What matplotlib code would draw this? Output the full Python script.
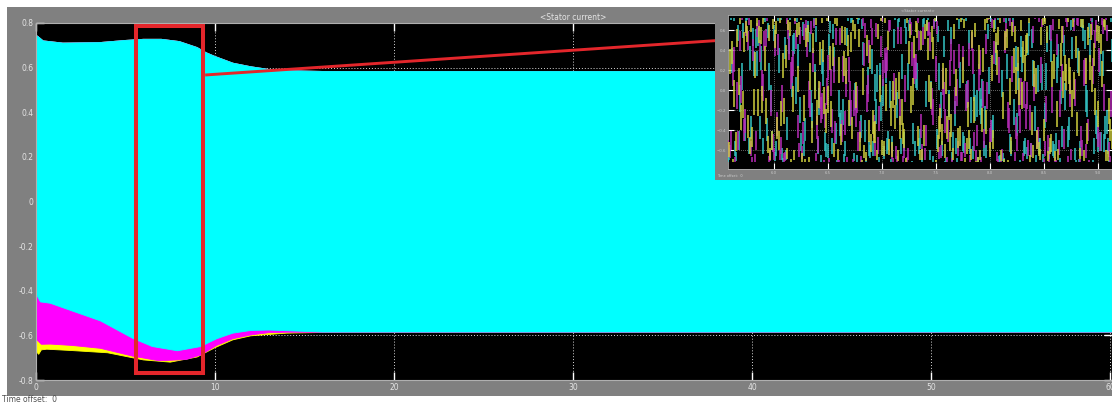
import numpy as np
import matplotlib
matplotlib.use("Agg")
import matplotlib.pyplot as plt
from matplotlib.patches import Rectangle

W, H, DPI = 1112, 403, 100

# Envelope of the three-phase stator current (p.u.) versus simulation time (s)
t_upper = [0, 0.1, 0.4, 1.5, 3.5, 5.0, 6.0, 7.0, 8.0, 9.0, 9.5, 10.0, 11.0, 12.0, 13.0, 14.0, 16.0, 60.2]
i_upper = [0.745, 0.74, 0.72, 0.71, 0.712, 0.722, 0.727, 0.727, 0.717, 0.69, 0.667, 0.65, 0.62, 0.604, 0.592, 0.586, 0.583, 0.583]

t_low_a = [0, 0.05, 0.25, 0.8, 2.0, 3.6, 5.4, 6.5, 7.9, 9.2, 10.1, 11.0, 12.0, 13.0, 14.0, 16.0, 60.2]
i_low_a = [-0.405, -0.42, -0.45, -0.456, -0.49, -0.535, -0.613, -0.65, -0.669, -0.65, -0.615, -0.59, -0.578, -0.576, -0.579, -0.585, -0.585]

t_low_b = [0, 0.05, 0.3, 0.8, 2.0, 3.6, 5.4, 6.9, 8.4, 9.2, 10.1, 11.0, 12.0, 13.0, 14.0, 16.0, 60.2]
i_low_b = [-0.60, -0.62, -0.64, -0.639, -0.645, -0.658, -0.693, -0.714, -0.708, -0.688, -0.645, -0.615, -0.598, -0.588, -0.586, -0.586, -0.586]

t_low_c = [0, 0.05, 0.15, 0.3, 0.6, 2.0, 4.0, 6.0, 7.5, 9.0, 10.0, 11.0, 12.0, 14.0, 16.0, 60.2]
i_low_c = [-0.64, -0.675, -0.685, -0.665, -0.662, -0.668, -0.678, -0.71, -0.72, -0.697, -0.655, -0.62, -0.602, -0.59, -0.587, -0.587]

x_ticks = [0, 10, 20, 30, 40, 50, 60]
y_ticks = [-0.8, -0.6, -0.4, -0.2, 0, 0.2, 0.4, 0.6, 0.8]
y_tick_labels = ["-0.8", "-0.6", "-0.4", "-0.2", "0", "0.2", "0.4", "0.6", "0.8"]

# Zoomed window (s) and the sampled current inside it
zoom_t0, zoom_t1 = 5.59, 9.34
inset_t0, inset_t1 = 5.574, 9.13
inset_amp = 0.72          # p.u. peak inside the window
grid_freq = 50.0          # Hz
scope_step = 0.0128       # s between displayed scope samples
solver_step = 0.0006      # s spanned by each drawn stroke
solver_drift = 0.3090     # cycles of phase slip growing with the sample index
inset_x_ticks = [6, 6.5, 7, 7.5, 8, 8.5, 9]
inset_y_ticks = [-0.6, -0.4, -0.2, 0, 0.2, 0.4, 0.6]

phase_colors = {"a": "#00ffff", "b": "#ff00ff", "c": "#ffff00"}
GRAY = "#808080"
TXT = "#e4e4e4"
RED = "#e3262b"


def px_axes(x0, y0, x1, y1):
    """Axes rectangle from pixel corners (top-left origin)."""
    return [x0 / W, (H - y1) / H, (x1 - x0) / W, (y1 - y0) / H]


fig = plt.figure(figsize=(W / DPI, H / DPI), dpi=DPI, facecolor="white")

# gray scope panel
fig.add_artist(Rectangle((7 / W, (H - 396) / H), (W - 7) / W, (396 - 7) / H,
                         transform=fig.transFigure, facecolor=GRAY, edgecolor="none", zorder=-5))

ax = fig.add_axes(px_axes(36, 23, W, 380), zorder=1)
ax.set_facecolor("black")
ax.set_xlim(0, 60.11)
ax.set_ylim(-0.8, 0.8)

# phase envelopes: c underneath, a on top
for t_low, i_low, key in [(t_low_c, i_low_c, "c"), (t_low_b, i_low_b, "b"), (t_low_a, i_low_a, "a")]:
    xs = list(t_upper) + list(t_low)[::-1]
    ys = list(i_upper) + list(i_low)[::-1]
    ax.fill(xs, ys, color=phase_colors[key], lw=0.6, edgecolor=phase_colors[key], zorder=2)

ax.set_xticks(x_ticks)
ax.set_yticks(y_ticks)
ax.set_yticklabels(y_tick_labels)
ax.tick_params(axis="both", direction="in", length=6, width=1, color="white",
               labelcolor=TXT, labelsize=5.5, top=True, right=True, pad=2)
ax.grid(True, color="#d8d8d8", lw=0.7, linestyle=(0, (1, 2)))
ax.set_axisbelow(True)
for sp in ax.spines.values():
    sp.set_color("#b0b0b0")
    sp.set_linewidth(0.8)

# zoom box and leader line
ax.add_patch(Rectangle((zoom_t0, -0.767), zoom_t1 - zoom_t0, 1.554, fill=False,
                       edgecolor=RED, lw=2.9, zorder=4, clip_on=False))
ax.plot([9.45, 37.97], [0.567, 0.721], color=RED, lw=2.1, zorder=4, solid_capstyle="butt")

fig.text(573 / W, 1 - 17 / H, "<Stator current>", color=TXT, fontsize=5.5, ha="center", va="center")
fig.text(2 / W, 1 - 399 / H, "Time offset:  0", color="#505050", fontsize=5.5, ha="left", va="center")

# inset scope
fig.add_artist(Rectangle((715 / W, (H - 180) / H), (W - 715) / W, (180 - 7) / H,
                         transform=fig.transFigure, facecolor=GRAY, edgecolor="none", zorder=5))
axi = fig.add_axes(px_axes(728, 14.7, W, 169), zorder=6)
axi.set_facecolor("black")
axi.set_xlim(inset_t0, inset_t1)
axi.set_ylim(-0.79, 0.753)

inset_cols = ["#33c4c4", "#b82cb8", "#cfcf3c"]
n_samp = int((inset_t1 - inset_t0) / scope_step) + 2
idx = np.arange(n_samp)
for k in range(3):
    tk = inset_t0 + (idx + k / 3.0) * scope_step
    # phase at each displayed sample; the slip term grows with the square of the index
    ph = 2 * np.pi * (grid_freq * tk + solver_drift * (idx + 0.37 * k) ** 2) - k * 2 * np.pi / 3
    dph = 2 * np.pi * grid_freq * solver_step
    y0 = inset_amp * np.sin(ph)
    y1 = inset_amp * np.sin(ph + dph)
    y2 = inset_amp * np.sin(ph + 2 * dph)
    lo = np.minimum(np.minimum(y0, y1), y2)
    hi = np.maximum(np.maximum(y0, y1), y2)
    axi.vlines(tk, lo, hi, colors=inset_cols[k], lw=1.3, alpha=0.85, zorder=3)

axi.set_xticks(inset_x_ticks)
axi.set_yticks(inset_y_ticks)
axi.tick_params(axis="both", direction="in", length=4, width=0.8, color="white",
                labelcolor="#c8c8c8", labelsize=2.8, top=True, right=True, pad=1.5)
axi.grid(True, color="#c0c0c0", lw=0.5, linestyle=(0, (1, 2)))
axi.set_axisbelow(True)
for sp in axi.spines.values():
    sp.set_color("#b0b0b0")
    sp.set_linewidth(0.6)
fig.text(918 / W, 1 - 11 / H, "<Stator current>", color="#d0d0d0", fontsize=2.8,
         ha="center", va="center", zorder=7)
fig.text(717 / W, 1 - 176 / H, "Time offset:  0", color="#d0d0d0", fontsize=2.5,
         ha="left", va="center", zorder=7)

fig.savefig("out.png", dpi=DPI, facecolor="white")
